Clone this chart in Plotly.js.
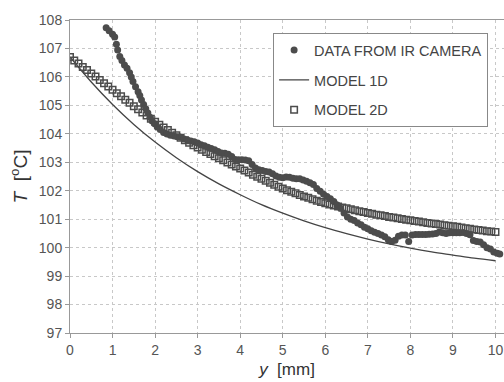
<!DOCTYPE html>
<html>
<head>
<meta charset="utf-8">
<script src="https://cdn.plot.ly/plotly-3.0.1.min.js"></script>
<style>
html,body{margin:0;padding:0;background:#fff;}
#chart{width:504px;height:382px;}
</style>
</head>
<body>
<div id="chart"></div>
<script>
// IR camera measurements (x in mm, T in °C)
const dataX = [0.85,0.92,1.00,1.05,1.09,1.12,1.17,1.22,1.28,1.34,1.40,1.44,1.48,1.54,1.60,1.64,1.68,1.73,1.78,1.83,1.88,1.93,1.99,2.05,2.12,2.20,2.28,2.36,2.44,2.52,2.60,2.68,2.76,2.84,2.92,3.00,3.08,3.16,3.24,3.32,3.40,3.48,3.56,3.64,3.72,3.80,3.88,3.96,4.04,4.12,4.20,4.28,4.36,4.44,4.52,4.60,4.68,4.76,4.84,4.92,5.00,5.08,5.16,5.24,5.32,5.40,5.48,5.56,5.64,5.72,5.80,5.88,5.96,6.04,6.12,6.20,6.28,6.36,6.44,6.52,6.60,6.68,6.76,6.84,6.92,7.00,7.08,7.16,7.24,7.32,7.40,7.48,7.56,7.64,7.72,7.80,7.88,7.96,8.04,8.12,8.20,8.28,8.36,8.44,8.52,8.60,8.68,8.76,8.84,8.92,9.00,9.08,9.16,9.24,9.32,9.40,9.48,9.56,9.64,9.72,9.80,9.88,9.96,10.04,10.10];
const dataT = [107.73,107.62,107.50,107.40,107.15,106.95,106.72,106.58,106.42,106.30,106.15,106.00,105.84,105.65,105.48,105.35,105.19,105.03,104.88,104.73,104.58,104.45,104.35,104.24,104.15,104.05,103.99,103.95,103.93,103.90,103.88,103.82,103.78,103.75,103.72,103.68,103.62,103.58,103.53,103.48,103.44,103.38,103.33,103.32,103.28,103.20,103.10,103.09,103.09,103.08,103.05,102.92,102.80,102.74,102.71,102.68,102.66,102.60,102.52,102.47,102.46,102.48,102.47,102.44,102.42,102.42,102.38,102.33,102.28,102.22,102.08,101.98,101.88,101.80,101.72,101.62,101.50,101.38,101.22,101.08,101.00,100.95,100.87,100.80,100.72,100.66,100.59,100.54,100.50,100.44,100.38,100.28,100.22,100.26,100.40,100.44,100.44,100.22,100.44,100.46,100.46,100.46,100.46,100.47,100.48,100.50,100.55,100.52,100.50,100.52,100.52,100.52,100.52,100.53,100.50,100.45,100.25,100.22,100.20,100.10,100.00,99.95,99.85,99.80,99.78];

// Model 1D
const m1X = [0,0.5,1,1.5,2,2.5,3,3.5,4,4.5,5,5.5,6,6.5,7,7.5,8,8.5,9,9.5,10];
const m1T = [106.70,105.82,105.03,104.33,103.71,103.16,102.67,102.24,101.86,101.51,101.21,100.94,100.70,100.49,100.30,100.13,99.98,99.85,99.74,99.63,99.54];

// Model 2D
const m2X = [0.0,0.1,0.2,0.3,0.4,0.5,0.6,0.7,0.8,0.9,1.0,1.1,1.2,1.3,1.4,1.5,1.6,1.7,1.8,1.9,2.0,2.1,2.2,2.3,2.4,2.5,2.6,2.7,2.8,2.9,3.0,3.1,3.2,3.3,3.4,3.5,3.6,3.7,3.8,3.9,4.0,4.1,4.2,4.3,4.4,4.5,4.6,4.7,4.8,4.9,5.0,5.1,5.2,5.3,5.4,5.5,5.6,5.7,5.8,5.9,6.0,6.1,6.2,6.3,6.4,6.5,6.6,6.7,6.8,6.9,7.0,7.1,7.2,7.3,7.4,7.5,7.6,7.7,7.8,7.9,8.0,8.1,8.2,8.3,8.4,8.5,8.6,8.7,8.8,8.9,9.0,9.1,9.2,9.3,9.4,9.5,9.6,9.7,9.8,9.9,10.0];
const m2T = [106.70,106.58,106.47,106.35,106.24,106.12,106.01,105.89,105.78,105.66,105.55,105.43,105.32,105.20,105.09,104.97,104.86,104.75,104.64,104.53,104.42,104.32,104.22,104.13,104.04,103.95,103.86,103.77,103.69,103.60,103.52,103.44,103.36,103.29,103.21,103.14,103.07,102.99,102.92,102.85,102.78,102.71,102.64,102.56,102.49,102.42,102.35,102.28,102.21,102.14,102.08,102.02,101.96,101.91,101.85,101.80,101.75,101.70,101.65,101.60,101.56,101.52,101.48,101.45,101.41,101.38,101.35,101.31,101.28,101.25,101.22,101.19,101.16,101.14,101.11,101.08,101.06,101.03,101.01,100.98,100.96,100.94,100.92,100.89,100.87,100.85,100.83,100.81,100.79,100.77,100.75,100.73,100.71,100.68,100.66,100.64,100.62,100.60,100.58,100.57,100.55];

const xTicks = [0,1,2,3,4,5,6,7,8,9,10];
const yTicks = [97,98,99,100,101,102,103,104,105,106,107,108];

const traces = [
  {x: dataX, y: dataT, name: 'DATA FROM IR CAMERA', mode: 'markers', type: 'scatter',
   legendgroup: 'a',
   marker: {symbol: 'circle', size: 7, color: '#4c4c4c'}},
  {x: m1X, y: m1T, name: 'MODEL 1D', mode: 'lines', type: 'scatter', line: {color: '#444', width: 1.3, shape: 'spline'},
   legendgroup: 'b'},
  {x: m2X, y: m2T, name: 'MODEL 2D', mode: 'markers', type: 'scatter',
   legendgroup: 'c',
   marker: {symbol: 'square-open', size: 6.5, color: '#4c4c4c', line: {width: 1.5, color: '#4c4c4c'}}}
];

const layout = {
  width: 504, height: 382,
  margin: {l: 70, r: 0, t: 20, b: 49},
  paper_bgcolor: '#fff', plot_bgcolor: '#fff',
  font: {family: 'Liberation Sans, Arial, sans-serif', color: '#444', size: 14},
  showlegend: true,
  legend: {x: 0.468, y: 0.958, xanchor: 'left', yanchor: 'top',
    bgcolor: '#fff', bordercolor: '#888', borderwidth: 1,
    font: {size: 14.5, color: '#444'}, tracegroupgap: 8, traceorder: 'grouped'},
  xaxis: {range: [0, 10.2], tickvals: xTicks, ticktext: xTicks.map(String),
    showline: true, linecolor: '#999', linewidth: 1, mirror: true,
    ticks: 'outside', ticklen: 4, tickcolor: '#999',
    showgrid: true, gridcolor: '#c8c8c8', griddash: 'dot', gridwidth: 1,
    zeroline: false, tickfont: {size: 14, color: '#555'},
    title: {text: '<i>y</i>\u00a0 [mm]', font: {size: 17, color: '#333'}, standoff: 6}},
  yaxis: {range: [97, 108], tickvals: yTicks, ticktext: yTicks.map(String),
    showline: true, linecolor: '#999', linewidth: 1,
    ticks: 'outside', ticklen: 4, tickcolor: '#999',
    showgrid: true, gridcolor: '#c8c8c8', griddash: 'dot', gridwidth: 1,
    zeroline: false, tickfont: {size: 14, color: '#555'},
    title: {text: '<i>T</i>\u00a0 [<sup>o</sup>C]', font: {size: 19, color: '#333'}, standoff: 6}}
};

Plotly.newPlot('chart', traces, layout, {displayModeBar: false, staticPlot: true});
</script>
</body>
</html>
